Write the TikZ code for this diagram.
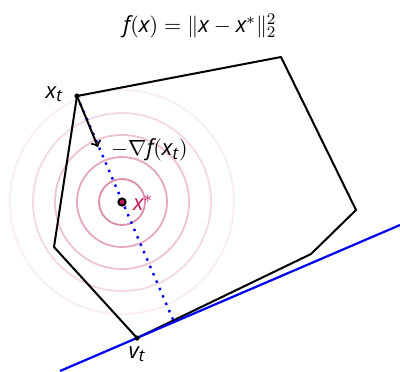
\documentclass[tikz,border=0pt]{standalone}
\usepackage{fontspec}
\setmainfont{Open Sans}
\newfontfamily\letterfont[NFSSFamily=oslet]{Open Sans}
\usetikzlibrary{calc}
\DeclareSymbolFont{sfit}{TU}{oslet}{m}{it}
\DeclareMathSymbol{f}{\mathalpha}{sfit}{`f}
\DeclareMathSymbol{x}{\mathalpha}{sfit}{`x}
\DeclareMathSymbol{t}{\mathalpha}{sfit}{`t}
\DeclareMathSymbol{v}{\mathalpha}{sfit}{`v}
\DeclareMathSizes{11}{11}{8.5}{7}
\definecolor{optred}{RGB}{200,20,90}
\definecolor{levelpink}{RGB}{215,120,160}
\definecolor{hypblue}{RGB}{0,0,240}

\begin{document}
\begin{tikzpicture}[x=0.0175cm,y=-0.0175cm,every node/.style={font=\fontsize{11}{13}\selectfont},
    set/.style={line width=1pt,line join=round},
    level/.style={levelpink,line width=0.9pt}]
                \useasboundingbox (0,0) rectangle (400,371);
                \node (title) at (200,26) {$f(x) = \|x - x^*\|_2^2$};

                % level sets of f
                \coordinate (opt) at (122,202);
                \foreach \r/\op in {23/0.85,45/0.65,67/0.45,89/0.28,112/0.14}
                    \draw[level,opacity=\op] (opt) circle (\r);

                % feasible set
                \coordinate (xt) at (77,96);
                \coordinate (ta) at (281,57);
                \coordinate (tb) at (356,210);
                \coordinate (tc) at (311,254);
                \coordinate (vt) at (137,338);
                \coordinate (td) at (54,247);
                \draw[set] (xt) -- (ta) -- (tb) -- (tc) -- (vt) -- (td) -- cycle;

                % supporting line at v_t
                \coordinate (la) at (60,371);
                \coordinate (lb) at (400,225);
                \draw[hypblue,line width=1.1pt] (la) -- (lb);
                \coordinate (foot) at ($(la)!(xt)!(lb)$);
                \draw[hypblue,line width=1.2pt,dash pattern=on 1.2pt off 2.8pt] (xt) -- (foot);

                % gradient step
                \coordinate (gt) at (98,147);
                \draw[line width=1pt,->] (xt) -- (gt);
                \node[anchor=west] (grad) at (104,150) {$-\nabla f(x_t)$};

                \fill (xt) circle (2.6);
                \fill (vt) circle (2.6);
                \filldraw[fill=optred,draw=black,line width=1pt] (opt) circle (3.6);

                \node[anchor=east] (xtl) at (70,94) {$x_t$};
                \node (vtl) at (137,354) {$v_t$};
                \node[anchor=west,text=optred] (optl) at (126,203) {$x^*$};
            \end{tikzpicture}
\end{document}
